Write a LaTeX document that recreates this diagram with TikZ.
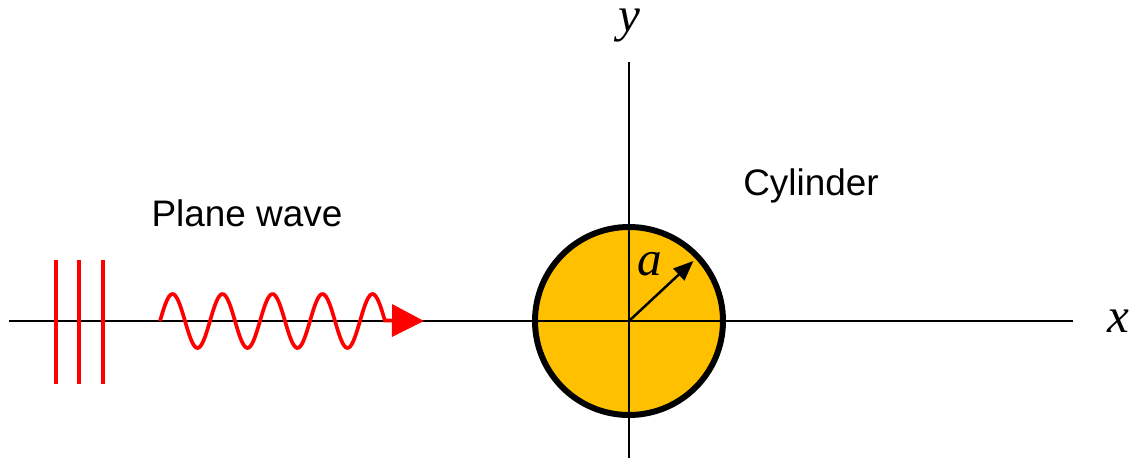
\documentclass[tikz,border=0pt]{standalone}
\usepackage{fontspec}
\setmainfont{Liberation Serif}
\setsansfont{Liberation Sans}
\usepackage{tikz}
\usetikzlibrary{arrows.meta,positioning,calc}
\definecolor{cylgold}{HTML}{FFC000}
\definecolor{wavered}{HTML}{FF0000}

\begin{document}
\begin{tikzpicture}[
  axis/.style={draw=black,line width=0.6pt},
  cylbody/.style={circle,draw=black,fill=cylgold,line width=1.7pt,minimum size=1.88cm,inner sep=0pt},
  front/.style={draw=wavered,line width=1.1pt},
  wave/.style={draw=wavered,line width=1.05pt,-{Triangle[length=3.2mm,width=3.2mm]}},
  radius/.style={-{Triangle[length=2mm,width=1.6mm]},line width=0.7pt},
  label/.style={font=\sffamily\fontsize{10.5}{12}\selectfont},
  sym/.style={font=\itshape\fontsize{14}{16}\selectfont,inner sep=0pt}
]
\useasboundingbox (-6.29,-1.38) rectangle (5.04,3.21);

\coordinate (O) at (0,0);
\node[cylbody] (cyl) at (O) {};

\coordinate (xl) at (-6.20,0);
\coordinate (xr) at (4.44,0);
\coordinate (yb) at (0,-1.37);
\coordinate (yt) at (0,2.59);
\draw[axis] (xl) -- (xr);
\draw[axis] (yb) -- (yt);
\node[sym] (xlab) at (4.89,0) {x};
\node[sym] (ylab) at (0,2.95) {y};

\coordinate (rtip) at (43:0.88);
\draw[radius] (O) -- (rtip);
\node[sym] (alab) at (0.21,0.57) {a};
\node[label] (cyltext) at (1.82,1.35) {Cylinder};

\foreach \i/\px in {1/-5.73,2/-5.50,3/-5.26}{
  \coordinate (f\i b) at (\px,-0.63);
  \coordinate (f\i t) at (\px,0.61);
  \draw[front] (f\i b) -- (f\i t);
}

\coordinate (wstart) at (-4.69,0);
\coordinate (wtip) at (-2.05,0);
\draw[wave] plot[domain=0:2.25,samples=150,smooth] ({-4.69+\x},{0.27*sin(\x*720)}) -- (wtip);
\node[label] (wavetext) at (-3.82,1.08) {Plane wave};
\end{tikzpicture}
\end{document}
